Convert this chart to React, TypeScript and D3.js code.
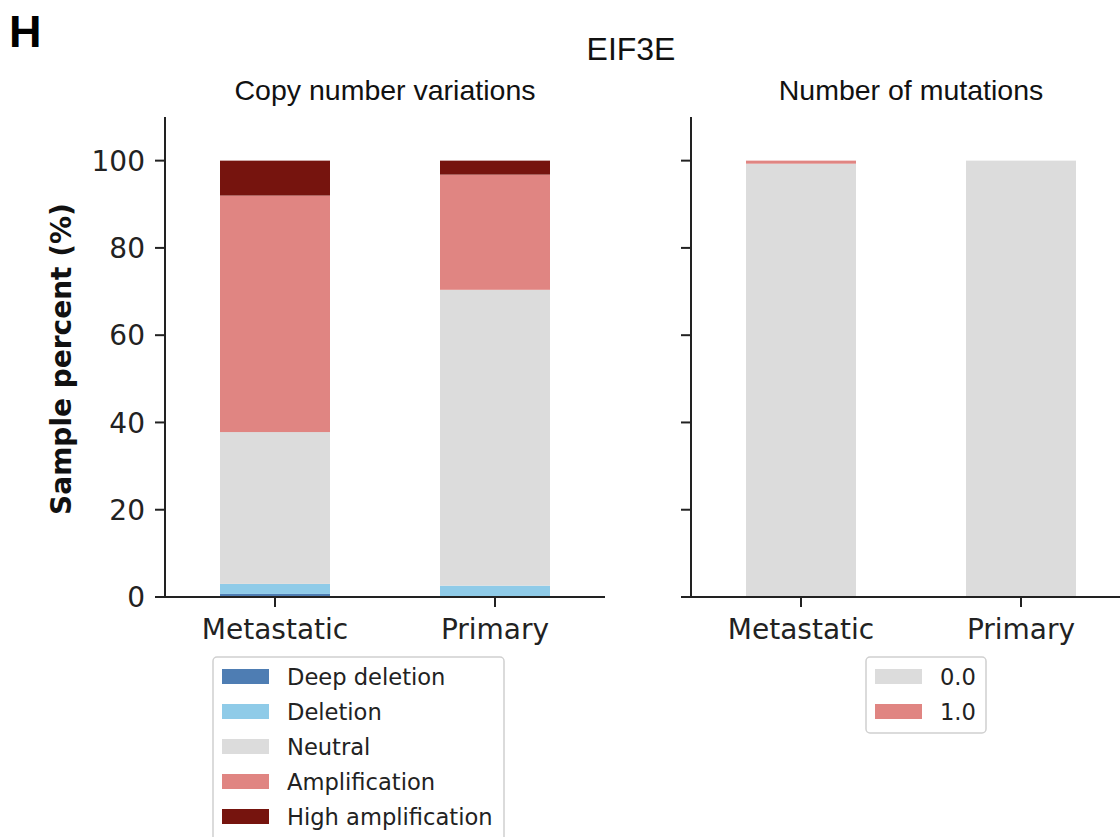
import React from "react";
import * as d3 from "d3";

// Sample groups and copy-number categories
const groups = ["Metastatic", "Primary"];
const cnvLabels = ["Deep deletion", "Deletion", "Neutral", "Amplification", "High amplification"];
const cnvColors = ["#4e7db3", "#8fcbe8", "#dcdcdc", "#e08582", "#76140e"];
// Percent of samples per CNV state, one array per group (bottom to top)
const cnvMetastatic = [0.7, 2.3, 34.8, 54.2, 8.0];
const cnvPrimary = [0.2, 2.4, 67.8, 26.4, 3.2];

// Mutation-count categories
const mutLabels = ["0.0", "1.0"];
const mutColors = ["#dcdcdc", "#e08582"];
const mutMetastatic = [99.3, 0.7];
const mutPrimary = [100, 0];

const yTicks = [0, 20, 40, 60, 80, 100];

const W = 1120;
const H = 837;
const top = 117;
const bottom = 597;
const panelW = 440;
const leftX = 165;
const rightX = 691;
const axisColor = "#222";
const tickFont = "DejaVu Sans, sans-serif";
const titleFont = "Liberation Sans, Arial, sans-serif";

function stackRows(rows: number[][]) {
  return rows.map((vals) => {
    let acc = 0;
    return vals.map((v) => {
      const seg = [acc, acc + v];
      acc += v;
      return seg;
    });
  });
}

function Panel({
  x0,
  rows,
  colors,
  title,
  showYLabels,
}: {
  x0: number;
  rows: number[][];
  colors: string[];
  title: string;
  showYLabels: boolean;
}) {
  const y = d3.scaleLinear().domain([0, 110]).range([bottom, top]);
  const x = d3
    .scaleBand<string>()
    .domain(groups)
    .range([x0, x0 + panelW])
    .paddingInner(0.5)
    .paddingOuter(0.25);
  const stacks = stackRows(rows);
  return (
    <g>
      <text
        x={x0 + panelW / 2}
        y={100}
        textAnchor="middle"
        fontFamily={titleFont}
        fontSize={28.5}
        fill="#111"
      >
        {title}
      </text>
      {stacks.map((segs, gi) =>
        segs.map((s, si) =>
          s[1] - s[0] > 0 ? (
            <rect
              key={`${gi}-${si}`}
              x={x(groups[gi])}
              width={x.bandwidth()}
              y={y(s[1])}
              height={y(s[0]) - y(s[1])}
              fill={colors[si]}
            />
          ) : null
        )
      )}
      {/* y axis */}
      <line x1={x0} x2={x0} y1={top} y2={bottom} stroke={axisColor} strokeWidth={2} />
      {yTicks.map((t) => (
        <g key={t}>
          <line x1={x0 - 10} x2={x0} y1={y(t)} y2={y(t)} stroke={axisColor} strokeWidth={2} />
          {showYLabels && (
            <text
              x={x0 - 20}
              y={y(t)}
              dy="0.36em"
              textAnchor="end"
              fontFamily={tickFont}
              fontSize={28}
              fill="#222"
            >
              {t}
            </text>
          )}
        </g>
      ))}
      {/* x axis */}
      <line x1={x0 - 1} x2={x0 + panelW} y1={bottom} y2={bottom} stroke={axisColor} strokeWidth={2} />
      {groups.map((g) => {
        const cx = (x(g) as number) + x.bandwidth() / 2;
        return (
          <g key={g}>
            <line x1={cx} x2={cx} y1={bottom} y2={bottom + 10} stroke={axisColor} strokeWidth={2} />
            <text x={cx} y={639} textAnchor="middle" fontFamily={tickFont} fontSize={28} fill="#222">
              {g}
            </text>
          </g>
        );
      })}
    </g>
  );
}

function Legend({
  x,
  y,
  w,
  h,
  labels,
  colors,
}: {
  x: number;
  y: number;
  w: number;
  h: number;
  labels: string[];
  colors: string[];
}) {
  return (
    <g>
      <rect x={x} y={y} width={w} height={h} rx={4} fill="#fff" stroke="#d0d0d0" strokeWidth={1.5} />
      {labels.map((l, i) => (
        <g key={l}>
          <rect x={x + 9} y={y + 12 + i * 35} width={47} height={15} fill={colors[i]} />
          <text
            x={x + 74}
            y={y + 20 + i * 35}
            dy="0.36em"
            fontFamily={tickFont}
            fontSize={22.6}
            fill="#222"
          >
            {l}
          </text>
        </g>
      ))}
    </g>
  );
}

export default function App() {
  return (
    <svg width={W} height={H} style={{ position: "absolute", left: 0, top: 0, background: "#fff" }}>
      <text x={9} y={47} fontFamily={titleFont} fontWeight="bold" fontSize={45} fill="#000">
        H
      </text>
      <text x={631} y={60} textAnchor="middle" fontFamily={titleFont} fontSize={32} fill="#111">
        EIF3E
      </text>
      <text
        transform={`translate(71,${(top + bottom) / 2 + 2}) rotate(-90)`}
        textAnchor="middle"
        fontFamily={tickFont}
        fontWeight="bold"
        fontSize={28}
        fill="#111"
      >
        Sample percent (%)
      </text>
      <Panel
        x0={leftX}
        rows={[cnvMetastatic, cnvPrimary]}
        colors={cnvColors}
        title="Copy number variations"
        showYLabels={true}
      />
      <Panel
        x0={rightX}
        rows={[mutMetastatic, mutPrimary]}
        colors={mutColors}
        title="Number of mutations"
        showYLabels={false}
      />
      <Legend x={213} y={657} w={291} h={190} labels={cnvLabels} colors={cnvColors} />
      <Legend x={866} y={657} w={120} h={76} labels={mutLabels} colors={mutColors} />
    </svg>
  );
}
